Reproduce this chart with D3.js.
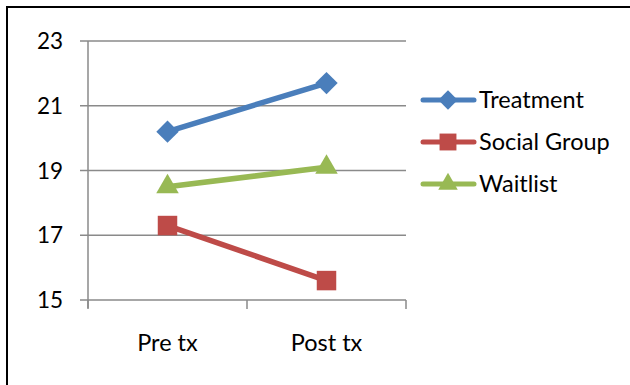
<!DOCTYPE html>
<html>
<head>
<meta charset="utf-8">
<script src="https://cdn.jsdelivr.net/npm/d3@7"></script>
<style>
  body { margin: 0; background: #fff; }
  svg text { font-family: Lato, "Open Sans", sans-serif; fill: #000; }
</style>
</head>
<body>
<svg id="chart" width="630" height="385"></svg>
<script>
// data
const categories = ['Pre tx', 'Post tx'];
const seriesNames = ['Treatment', 'Social Group', 'Waitlist'];
const treatment = [20.2, 21.7];
const socialGroup = [17.3, 15.6];
const waitlist = [18.5, 19.1];
const yTicks = [15, 17, 19, 21, 23];

const colors = ['#4a7ebb', '#be4b48', '#98b954'];
// 菱形用旋转45度的正方形
const symbols = [d3.symbolSquare, d3.symbolSquare, d3.symbolTriangle];
const symRotate = [45, 0, 0];
const symSizes = [250, 380, 220];

let svg = d3.select('#chart');

// outer frame (right and bottom edges fall outside)
svg.append('rect')
    .attr('x', 7).attr('y', 7)
    .attr('width', 700).attr('height', 500)
    .attr('fill', 'none')
    .attr('stroke', '#000')
    .attr('stroke-width', 2);

let pLeft = 88, pRight = 406, pTop = 41, pBottom = 300;

let xBand = d3.scaleBand().domain(categories).range([pLeft, pRight]);
let x = d => xBand(d) + xBand.bandwidth() / 2;
let y = d3.scaleLinear().domain([15, 23]).range([pBottom, pTop]);

let g = svg.append('g');

//网格线
g.selectAll('line.grid')
    .data(yTicks)
    .enter()
    .append('line')
    .attr('class', 'grid')
    .attr('x1', pLeft - 8).attr('x2', pRight)
    .attr('y1', d => y(d)).attr('y2', d => y(d))
    .attr('stroke', '#8a8a8a')
    .attr('stroke-width', 1.5);

// y axis line
g.append('line')
    .attr('x1', pLeft).attr('x2', pLeft)
    .attr('y1', pTop).attr('y2', pBottom + 8)
    .attr('stroke', '#8a8a8a')
    .attr('stroke-width', 1.5);

// x tick marks
let xEdges = [pLeft, xBand(categories[1]), pRight];
g.selectAll('line.xtick')
    .data(xEdges)
    .enter()
    .append('line')
    .attr('class', 'xtick')
    .attr('x1', d => d).attr('x2', d => d)
    .attr('y1', pBottom).attr('y2', pBottom + 9)
    .attr('stroke', '#8a8a8a')
    .attr('stroke-width', 1.5);

// y labels
g.selectAll('text.ylab')
    .data(yTicks)
    .enter()
    .append('text')
    .attr('class', 'ylab')
    .attr('x', 63)
    .attr('y', d => y(d))
    .attr('dy', '0.36em')
    .attr('text-anchor', 'end')
    .style('font-size', '22.5px')
    .text(d => d);

// x labels
g.selectAll('text.xlab')
    .data(categories)
    .enter()
    .append('text')
    .attr('class', 'xlab')
    .attr('x', d => x(d))
    .attr('y', 343)
    .attr('dy', '0.36em')
    .attr('text-anchor', 'middle')
    .style('font-size', '23.5px')
    .text(d => d);

let allSeries = [treatment, socialGroup, waitlist];
let line = d3.line()
    .x((d, i) => x(categories[i]))
    .y(d => y(d));

allSeries.forEach((vals, si) => {
    g.append('path')
        .attr('d', line(vals))
        .attr('fill', 'none')
        .attr('stroke', colors[si])
        .attr('stroke-width', 5.5)
        .attr('stroke-linecap', 'round');
    g.selectAll('path.m' + si)
        .data(vals)
        .enter()
        .append('path')
        .attr('class', 'm' + si)
        .attr('d', d3.symbol().type(symbols[si]).size(symSizes[si]))
        .attr('transform', (d, i) => 'translate(' + x(categories[i]) + ',' + y(d) + ') rotate(' + symRotate[si] + ')')
        .attr('fill', colors[si]);
});

// legend
let legend = svg.append('g');
seriesNames.forEach((name, i) => {
    let ly = 100 + i * 42;
    legend.append('line')
        .attr('x1', 423).attr('x2', 474)
        .attr('y1', ly).attr('y2', ly)
        .attr('stroke', colors[i])
        .attr('stroke-width', 5)
        .attr('stroke-linecap', 'round');
    legend.append('path')
        .attr('d', d3.symbol().type(symbols[i]).size(symSizes[i] * 0.75))
        .attr('transform', 'translate(448,' + ly + ') rotate(' + symRotate[i] + ')')
        .attr('fill', colors[i]);
    legend.append('text')
        .attr('x', 479)
        .attr('y', ly)
        .attr('dy', '0.36em')
        .style('font-size', '23.5px')
        .text(name);
});
</script>
</body>
</html>
